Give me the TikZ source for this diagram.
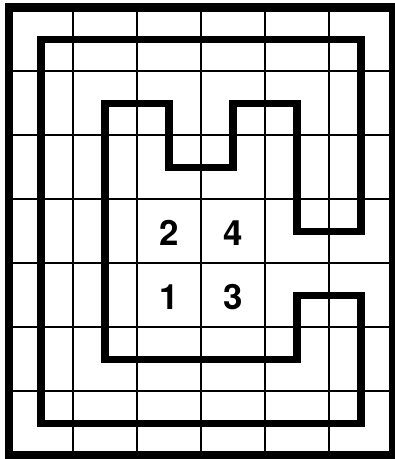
\documentclass[tikz,border=0pt]{standalone}
\usepackage{fontspec}
\setsansfont{TeX Gyre Heros}
\tikzset{
  gridline/.style={draw=black,line width=0.9pt},
  borderline/.style={draw=black,line width=3.8pt},
  loopline/.style={draw=black,line width=3.3pt,line join=miter},
  numcell/.style={font=\sffamily\bfseries\fontsize{15.5}{18}\selectfont,inner sep=0pt}
}
\begin{document}
\begin{tikzpicture}[x=1cm,y=-1cm]
\useasboundingbox (-0.14,-0.117) rectangle (6.03,7.055);
% grid and frame
\draw[gridline] (0,0) grid (6,7);
\draw[borderline] (0,0) rectangle (6,7);
% the loop
\draw[loopline] (0.5,0.5) -- (5.5,0.5) -- (5.5,3.5) -- (4.5,3.5) -- (4.5,1.5) -- (3.5,1.5)
  -- (3.5,2.5) -- (2.5,2.5) -- (2.5,1.5) -- (1.5,1.5) -- (1.5,5.5) -- (4.5,5.5) -- (4.5,4.5)
  -- (5.5,4.5) -- (5.5,6.5) -- (0.5,6.5) -- cycle;
% clues
\node[numcell] (two) at (2.5,3.52) {2};
\node[numcell] (four) at (3.5,3.52) {4};
\node[numcell] (one) at (2.5,4.52) {1};
\node[numcell] (three) at (3.5,4.52) {3};
\end{tikzpicture}
\end{document}
